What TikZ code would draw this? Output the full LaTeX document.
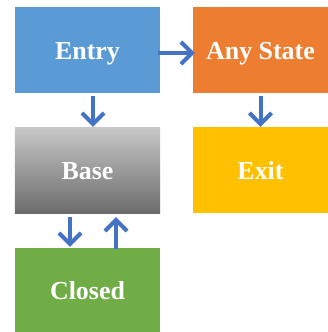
\documentclass[tikz,border=0pt]{standalone}
\usepackage{fontspec}
\setmainfont{Liberation Serif}
\usetikzlibrary{arrows.meta}
\definecolor{cblue}{RGB}{91,155,213}
\definecolor{corange}{RGB}{237,125,49}
\definecolor{cgold}{RGB}{255,192,0}
\definecolor{cgreen}{RGB}{112,173,71}
\definecolor{carrow}{RGB}{68,114,196}
\definecolor{gtop}{RGB}{200,200,200}
\definecolor{gbot}{RGB}{108,108,108}
\begin{document}
\begin{tikzpicture}[x=1bp,y=-1bp,
 box/.style={minimum width=145bp, minimum height=86bp, inner sep=0pt, text height=18bp, text depth=0bp, text=white, font=\fontsize{26}{30}\selectfont\bfseries},
 conn/.style={carrow, line width=4bp, -{Straight Barb[length=11bp,width=22bp]}}]
\useasboundingbox (0,0) rectangle (328,332);
\node[box, fill=cblue] (entry) at (87.5,50) {Entry};
\node[box, fill=corange, minimum width=135bp] (any) at (260.5,50) {Any State};
\node[box, top color=gtop, bottom color=gbot] (base) at (87.5,170) {Base};
\node[box, fill=cgold, minimum width=135bp] (exit) at (260.5,170) {Exit};
\node[box, fill=cgreen, minimum height=84bp] (closed) at (87.5,290) {Closed};
\draw[conn] ([xshift=-2bp,yshift=-3bp]entry.east) -- ([xshift=2bp,yshift=-3bp]any.west);
\draw[conn] ([xshift=5.5bp,yshift=-3bp]entry.south) -- ([xshift=5.5bp]base.north);
\draw[conn] ([yshift=-3bp]any.south) -- (exit.north);
\draw[conn] ([xshift=-17.5bp,yshift=-4bp]base.south) -- ([xshift=-17.5bp,yshift=1bp]closed.north);
\draw[conn] ([xshift=28.5bp,yshift=-1bp]closed.north) -- ([xshift=28.5bp,yshift=-4bp]base.south);
\end{tikzpicture}
\end{document}
